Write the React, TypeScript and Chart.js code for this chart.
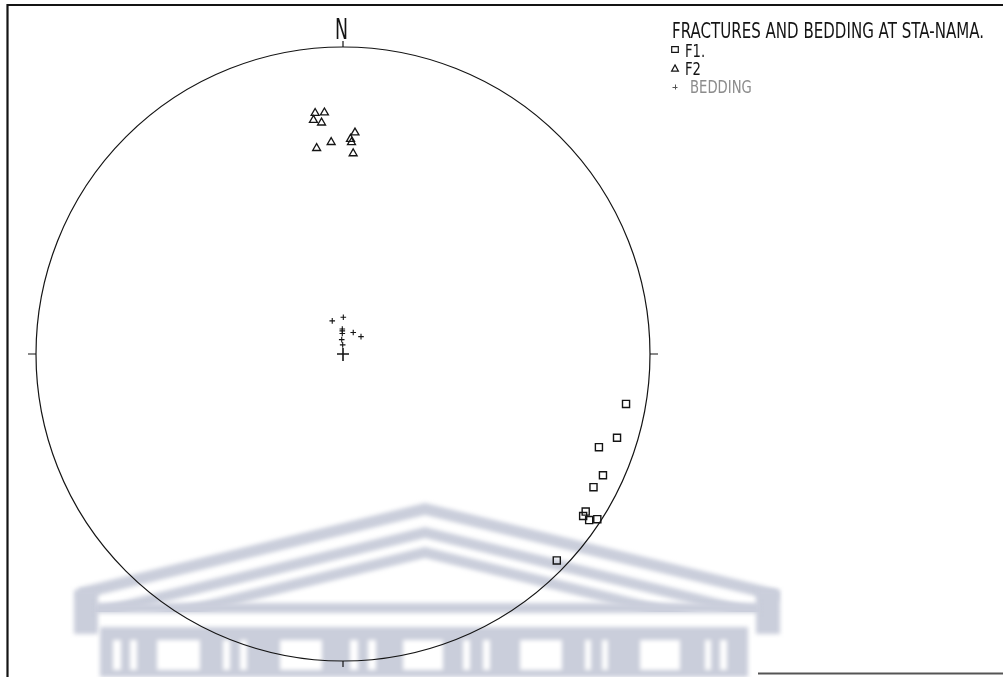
import React, { useEffect, useRef } from 'react';
import { Chart, registerables } from 'chart.js';

Chart.register(...registerables);

// Lower-hemisphere poles plotted on a Schmidt (equal-area) net.
const chartTitle = 'FRACTURES AND BEDDING AT STA-NAMA.';
const seriesLabels = ['F1.', 'F2', 'BEDDING'];

// Trend in degrees clockwise from north, plunge in degrees below horizontal.
const f1Trend = [100, 107, 110, 115, 118, 123, 124, 124, 123, 134];
const f1Plunge = [7.1, 7.4, 12.3, 7.3, 8.4, 6.4, 6.3, 3.7, 1.4, 3.6];

const f2Trend = [353.4, 355.6, 352.8, 354.7, 352.7, 356.8, 3.1, 2.0, 2.3, 2.9];
const f2Plunge = [22.1, 22.2, 24.2, 25.3, 32.9, 31.5, 28.6, 30.6, 31.6, 34.9];

const bedTrend = [342, 0.5, 358.4, 358.3, 358, 25.4, 46.1, 354.9, 358];
const bedPlunge = [80.8, 80.3, 83.4, 83.9, 84.6, 83.7, 83.4, 86.2, 87.6];

const netLetter = 'N';

function project(trend: number, plunge: number) {
  const t = (trend * Math.PI) / 180;
  const r = Math.SQRT2 * Math.sin(((90 - plunge) * Math.PI) / 360);
  return { x: r * Math.sin(t), y: r * Math.cos(t) };
}

function toPoints(trends: number[], plunges: number[]) {
  return trends.map((t, i) => project(t, plunges[i]));
}

const INK = '#141414';

function drawGlyph(ctx: CanvasRenderingContext2D, style: string, x: number, y: number) {
  ctx.beginPath();
  if (style === 'rect') {
    ctx.rect(x - 3.3, y - 2.8, 6.6, 5.6);
  } else if (style === 'triangle') {
    ctx.moveTo(x, y - 3.6);
    ctx.lineTo(x + 3.4, y + 2.6);
    ctx.lineTo(x - 3.4, y + 2.6);
    ctx.closePath();
  } else {
    ctx.moveTo(x - 2.5, y + 0.5);
    ctx.lineTo(x + 2.5, y + 0.5);
    ctx.moveTo(x + 0.5, y - 2.5);
    ctx.lineTo(x + 0.5, y + 2.5);
  }
  ctx.stroke();
}

// Faint crest printed behind the net
function drawCrest(ctx: CanvasRenderingContext2D) {
  const grey = 'rgb(202,206,219)';
  const apexX = 425;
  const slope = 0.245;
  ctx.save();
  ctx.filter = 'blur(2.2px)';
  ctx.fillStyle = grey;
  ctx.save();
  ctx.beginPath();
  ctx.rect(0, 0, 1003, 612);
  ctx.clip();
  const bands: [number, number][] = [
    [503, 12],
    [527, 11],
    [547, 11],
  ];
  for (const [top, th] of bands) {
    const xl = 78;
    const xr = 778;
    ctx.beginPath();
    ctx.moveTo(xl, top + slope * (apexX - xl));
    ctx.lineTo(apexX, top);
    ctx.lineTo(xr, top + slope * (xr - apexX));
    ctx.lineTo(xr, top + slope * (xr - apexX) + th);
    ctx.lineTo(apexX, top + th);
    ctx.lineTo(xl, top + slope * (apexX - xl) + th);
    ctx.closePath();
    ctx.fill();
  }
  ctx.restore();
  ctx.fillRect(74, 590, 24, 44);
  ctx.fillRect(756, 590, 24, 44);
  ctx.fillRect(95, 603, 665, 10);
  ctx.fillRect(100, 627, 648, 50);
  ctx.fillStyle = '#ffffff';
  const openings: [number, number][] = [
    [113, 121], [130, 137], [157, 200], [223, 230], [240, 247], [280, 322],
    [350, 358], [368, 376], [403, 443], [463, 470], [483, 490], [520, 562],
    [585, 591], [602, 608], [640, 680], [705, 711], [720, 727],
  ];
  for (const [a, b] of openings) ctx.fillRect(a, 640, b - a, 30);
  ctx.restore();
}

const pagePlugin = {
  id: 'page',
  beforeDraw(chart: any) {
    const ctx: CanvasRenderingContext2D = chart.ctx;
    ctx.save();
    ctx.fillStyle = '#ffffff';
    ctx.fillRect(0, 0, chart.width, chart.height);
    drawCrest(ctx);
    ctx.strokeStyle = INK;
    ctx.lineWidth = 2.2;
    ctx.beginPath();
    ctx.moveTo(7.5, chart.height);
    ctx.lineTo(7.5, 5);
    ctx.lineTo(chart.width, 5);
    ctx.stroke();
    ctx.strokeStyle = '#555';
    ctx.lineWidth = 2;
    ctx.beginPath();
    ctx.moveTo(758, 673.5);
    ctx.lineTo(chart.width, 673.5);
    ctx.stroke();
    ctx.restore();
  },
};

const netPlugin = {
  id: 'net',
  beforeDatasetsDraw(chart: any) {
    const ctx: CanvasRenderingContext2D = chart.ctx;
    const xs = chart.scales.x;
    const ys = chart.scales.y;
    const cx = xs.getPixelForValue(0);
    const cy = ys.getPixelForValue(0);
    const R = xs.getPixelForValue(1) - cx;
    ctx.save();
    ctx.strokeStyle = INK;
    ctx.lineWidth = 1.2;
    ctx.beginPath();
    ctx.arc(cx, cy, R, 0, Math.PI * 2);
    ctx.stroke();
    ctx.beginPath();
    ctx.moveTo(cx, cy - R);
    ctx.lineTo(cx, cy - R - 6);
    ctx.moveTo(cx + R, cy);
    ctx.lineTo(cx + R + 8, cy);
    ctx.moveTo(cx - R, cy);
    ctx.lineTo(cx - R - 8, cy);
    ctx.moveTo(cx, cy + R);
    ctx.lineTo(cx, cy + R + 6);
    ctx.stroke();
    ctx.lineWidth = 1.6;
    ctx.beginPath();
    ctx.moveTo(cx - 6, cy);
    ctx.lineTo(cx + 6, cy);
    ctx.moveTo(cx, cy - 6);
    ctx.lineTo(cx, cy + 7);
    ctx.stroke();
    ctx.fillStyle = INK;
    ctx.font = '28px "DejaVu Sans"';
    const w = ctx.measureText(netLetter).width;
    const sx = 13 / w;
    ctx.translate(cx - 1.5 - 6.5, cy - R - 8);
    ctx.scale(sx, 1);
    ctx.fillText(netLetter, 0, 0);
    ctx.restore();
  },
};

const keyPlugin = {
  id: 'key',
  afterDraw(chart: any) {
    const ctx: CanvasRenderingContext2D = chart.ctx;
    ctx.save();
    ctx.fillStyle = INK;
    ctx.font = '20.5px "DejaVu Sans"';
    const tw = ctx.measureText(chartTitle).width;
    const sx = 312 / tw;
    ctx.save();
    ctx.translate(672, 38);
    ctx.scale(sx, 1);
    ctx.fillText(chartTitle, 0, 0);
    ctx.restore();

    const rows = [
      { y: 56.5, gy: 49.5, tx: 685, color: INK },
      { y: 75, gy: 68.5, tx: 685, color: INK },
      { y: 93.3, gy: 87, tx: 690, color: '#8c8c8c' },
    ];
    chart.data.datasets.forEach((ds: any, i: number) => {
      const row = rows[i];
      ctx.strokeStyle = i === 2 ? '#555' : INK;
      ctx.lineWidth = i === 2 ? 1 : 1.2;
      drawGlyph(ctx, ds.pointStyle, 675, row.gy);
      ctx.save();
      ctx.fillStyle = row.color;
      ctx.font = '18px "DejaVu Sans"';
      ctx.translate(row.tx, row.y);
      ctx.scale(sx, 1);
      ctx.fillText(ds.label, 0, 0);
      ctx.restore();
    });
    ctx.restore();
  },
};

export default function App() {
  const canvasRef = useRef<HTMLCanvasElement | null>(null);

  useEffect(() => {
    if (!canvasRef.current) return;
    const common = {
      showLine: false,
      borderColor: INK,
      backgroundColor: 'rgba(0,0,0,0)',
      clip: false as const,
    };
    const chart = new Chart(canvasRef.current, {
      type: 'scatter',
      data: {
        datasets: [
          {
            ...common,
            label: seriesLabels[0],
            data: toPoints(f1Trend, f1Plunge),
            pointStyle: 'rect',
            pointRadius: 5,
            borderWidth: 1.4,
          },
          {
            ...common,
            label: seriesLabels[1],
            data: toPoints(f2Trend, f2Plunge),
            pointStyle: 'triangle',
            pointRadius: 4.6,
            borderWidth: 1.3,
          },
          {
            ...common,
            label: seriesLabels[2],
            data: toPoints(bedTrend, bedPlunge),
            pointStyle: 'cross',
            pointRadius: 2.8,
            borderWidth: 1.1,
          },
        ],
      },
      options: {
        responsive: false,
        animation: false,
        events: [],
        layout: { padding: { left: 36, top: 47, right: 353, bottom: 16 } },
        scales: {
          x: { type: 'linear', min: -1, max: 1, display: false },
          y: { type: 'linear', min: -1, max: 1, display: false },
        },
        plugins: {
          legend: { display: false },
          tooltip: { enabled: false },
          title: { display: false },
        },
      },
      plugins: [pagePlugin, netPlugin, keyPlugin],
    });
    return () => chart.destroy();
  }, []);

  return (
    <div style={{ position: 'absolute', left: 0, top: 0, width: 1003, height: 677 }}>
      <canvas ref={canvasRef} width={1003} height={677} style={{ display: 'block' }} />
    </div>
  );
}
